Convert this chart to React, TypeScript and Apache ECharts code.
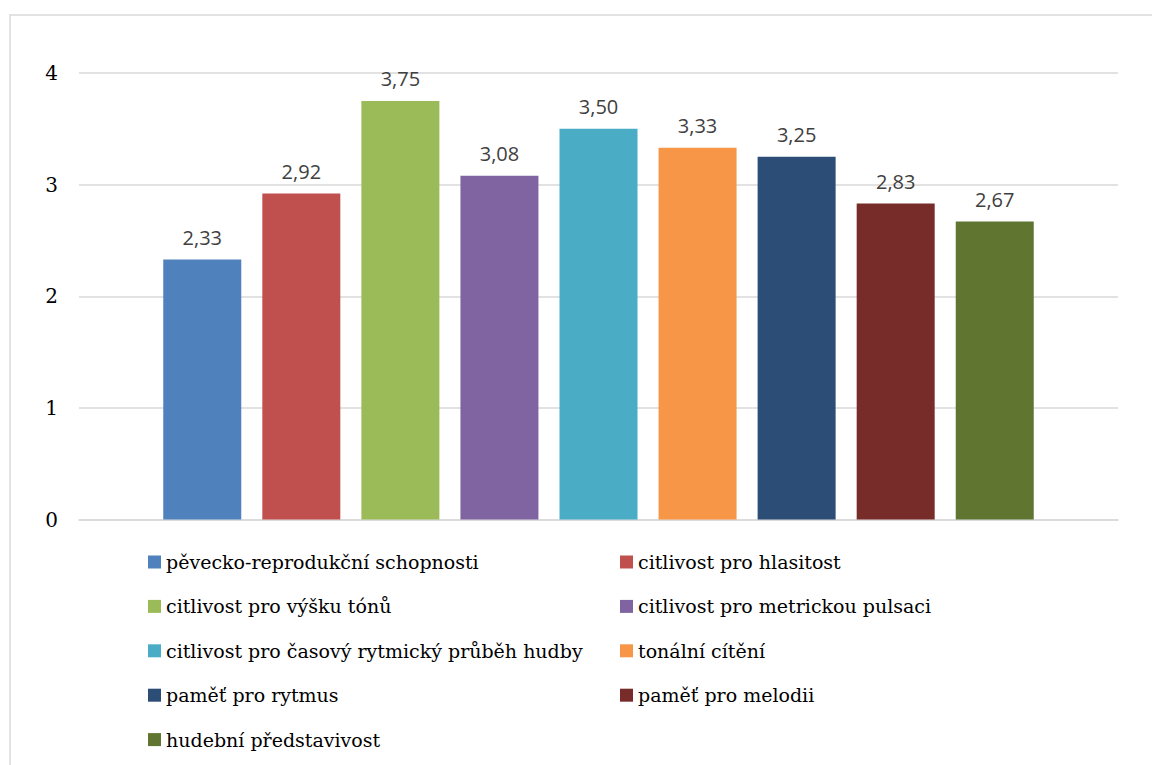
import React, { useEffect, useRef } from "react";
import * as echarts from "echarts";

const categories: string[] = ["Hudební schopnosti"];

const seriesNames: string[] = [
  "pěvecko-reprodukční schopnosti",
  "citlivost pro hlasitost",
  "citlivost pro výšku tónů",
  "citlivost pro metrickou pulsaci",
  "citlivost pro časový rytmický průběh hudby",
  "tonální cítění",
  "paměť pro rytmus",
  "paměť pro melodii",
  "hudební představivost",
];

const seriesValues: number[] = [2.33, 2.92, 3.75, 3.08, 3.5, 3.33, 3.25, 2.83, 2.67];

const seriesColors: string[] = [
  "#4F81BD",
  "#C0504D",
  "#9BBB59",
  "#8064A2",
  "#4BACC6",
  "#F79646",
  "#2C4D75",
  "#772C2A",
  "#5F7530",
];

const yTicks = { min: 0, max: 4, interval: 1 };

const fmt = (v: number) => v.toFixed(2).replace(".", ",");

const SERIF = "DejaVu Serif";
const SANS = "Open Sans";

export default function App() {
  const ref = useRef<HTMLDivElement>(null);

  useEffect(() => {
    if (!ref.current) return;
    const chart = echarts.init(ref.current, undefined, { renderer: "svg" });

    const leftNames = seriesNames.filter((_, i) => i % 2 === 0);
    const rightNames = seriesNames.filter((_, i) => i % 2 === 1);

    const legendBase = {
      orient: "vertical",
      top: 547,
      itemWidth: 13,
      itemHeight: 13,
      itemGap: 24.4,
      icon: "rect",
      textStyle: { fontFamily: SERIF, fontSize: 19, color: "#000", lineHeight: 20 },
      selectedMode: false,
    };

    chart.setOption({
      animation: false,
      backgroundColor: "#ffffff",
      textStyle: { fontFamily: SERIF },
      grid: { left: 79, right: 34, top: 73, bottom: 245.5, containLabel: false },
      xAxis: {
        type: "category",
        data: categories,
        axisLabel: { show: false },
        axisTick: { show: false },
        axisLine: { show: true, lineStyle: { color: "#d9d9d9", width: 1.5 } },
      },
      yAxis: {
        type: "value",
        min: yTicks.min,
        max: yTicks.max,
        interval: yTicks.interval,
        axisLine: { show: false },
        axisTick: { show: false },
        axisLabel: {
          margin: 21,
          fontFamily: SERIF,
          fontSize: 20,
          lineHeight: 20,
          color: "#000000",
        },
        splitLine: { lineStyle: { color: "#d9d9d9", width: 1.5 } },
      },
      legend: [
        { ...legendBase, left: 143, data: leftNames },
        { ...legendBase, left: 615, data: rightNames },
      ],
      graphic: [
        {
          type: "rect",
          left: 7.5,
          top: 12.5,
          shape: { width: 1300, height: 900 },
          style: { fill: "none", stroke: "#d9d9d9", lineWidth: 1.5 },
          silent: true,
        },
      ],
      series: seriesNames.map((name, i) => ({
        name,
        type: "bar",
        barWidth: 78,
        barGap: "27%",
        itemStyle: { color: seriesColors[i] },
        data: [seriesValues[i]],
        label: {
          show: true,
          position: "top",
          distance: 12,
          fontFamily: SANS,
          fontSize: 20,
          color: "#404040",
          formatter: (p: any) => fmt(p.value as number),
        },
      })),
    });

    return () => chart.dispose();
  }, []);

  return (
    <div
      ref={ref}
      style={{ position: "absolute", left: 0, top: 0, width: 1152, height: 765 }}
    />
  );
}
